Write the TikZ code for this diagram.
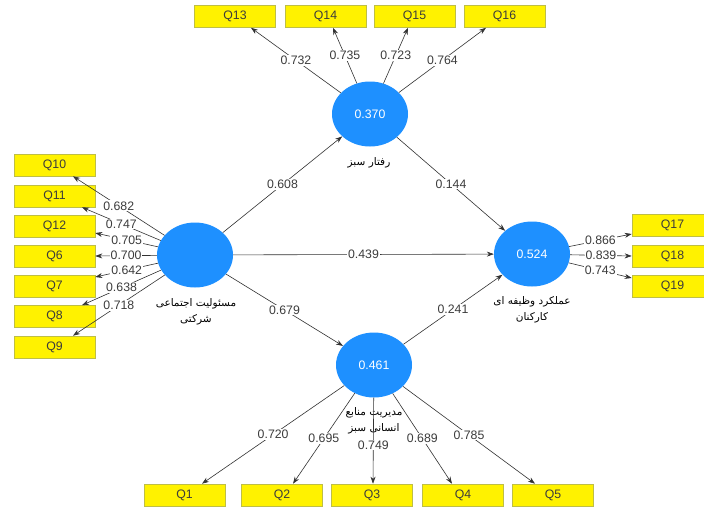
\documentclass[tikz,border=0pt]{standalone}
\usepackage{fontspec}
\setmainfont{Liberation Sans}
\newfontfamily\arabicfont[Script=Arabic]{DejaVu Sans}
\TeXXeTstate=1
\usetikzlibrary{arrows.meta,shapes.geometric}
\definecolor{lv}{RGB}{30,144,255}
\definecolor{boxedge}{RGB}{190,190,70}
\definecolor{txt}{RGB}{60,60,60}
\definecolor{ln}{RGB}{50,50,50}
\begin{document}
\begin{tikzpicture}[x=1pt,y=-1pt,
  ind/.style={draw=boxedge,fill=yellow,line width=0.6pt,minimum width=81pt,minimum height=22pt,inner sep=0pt,font=\fontsize{12.3}{13}\selectfont,text=txt},
  lat/.style={ellipse,fill=lv,minimum width=76pt,minimum height=65pt,inner sep=0pt,font=\fontsize{12.3}{13}\selectfont,text=white},
  conn/.style={draw=ln,line width=0.6pt,-{Stealth[length=7pt,width=5pt]}},
  wt/.style={fill=white,inner sep=1pt,font=\fontsize{12.3}{13}\selectfont,text=txt},
  ar/.style={align=center,font=\arabicfont\fontsize{10.5}{15.5}\selectfont,text=black}]
\clip (0,0) rectangle (704,506);
\fill[white] (0,0) rectangle (704,506);
% latent variables
\node[lat] (c1) at (195,255) {};
\node[lat] (c2) at (370,114) {0.370};
\node[lat] (c3) at (532,254) {0.524};
\node[lat] (c4) at (374,365) {0.461};
% latent labels
\node[ar] (l1) at (196,312) {\beginR مسئولیت اجتماعی\endR\\\beginR شرکتی\endR};
\node[ar] (l2) at (369,163) {\beginR رفتار سبز\endR};
\node[ar] (l3) at (532,310) {\beginR عملکرد وظیفه ای\endR\\\beginR کارکنان\endR};
\node[ar] (l4) at (374,421) {\beginR مدیریت منابع\endR\\\beginR انسانی سبز\endR};
% indicator boxes left
\node[ind] (q10) at (54.5,165) {Q10};
\node[ind] (q11) at (54.5,196) {Q11};
\node[ind] (q12) at (54.5,226) {Q12};
\node[ind] (q6) at (54.5,256) {Q6};
\node[ind] (q7) at (54.5,286) {Q7};
\node[ind] (q8) at (54.5,316.5) {Q8};
\node[ind] (q9) at (54.5,347) {Q9};
% top
\node[ind] (q13) at (235,16.5) {Q13};
\node[ind] (q14) at (325.5,16.5) {Q14};
\node[ind] (q15) at (414.5,16.5) {Q15};
\node[ind] (q16) at (504.5,16.5) {Q16};
% right
\node[ind] (q17) at (672.5,225) {Q17};
\node[ind] (q18) at (672.5,256) {Q18};
\node[ind] (q19) at (672.5,286) {Q19};
% bottom
\node[ind] (q1) at (184.5,495) {Q1};
\node[ind] (q2) at (282,495) {Q2};
\node[ind] (q3) at (372,495) {Q3};
\node[ind] (q4) at (463,495) {Q4};
\node[ind] (q5) at (553,495) {Q5};
% structural paths
\draw[conn] (c1) -- node[wt] {0.608} (c2);
\draw[conn] (c2) -- node[wt] {0.144} (c3);
\draw[conn] (c1) -- node[wt] {0.439} (c3);
\draw[conn] (c1) -- node[wt] {0.679} (c4);
\draw[conn] (c4) -- node[wt] {0.241} (c3);
% left loadings
\draw[conn] (c1) -- node[wt] {0.682} ([xshift=18.5pt]q10.south);
\draw[conn] (c1) -- node[wt] {0.747} ([xshift=27.5pt]q11.south);
\draw[conn] (c1) -- node[wt] {0.705} ([yshift=-7pt]q12.east);
\draw[conn] (c1) -- node[wt] {0.700} (q6.east);
\draw[conn] (c1) -- node[wt] {0.642} ([yshift=9pt]q7.east);
\draw[conn] (c1) -- node[wt] {0.638} ([xshift=27.5pt]q8.north);
\draw[conn] (c1) -- node[wt] {0.718} ([xshift=18.5pt]q9.north);
% top loadings
\draw[conn] (c2) -- node[wt] {0.732} ([xshift=16pt]q13.south);
\draw[conn] (c2) -- node[wt] {0.735} ([xshift=7.5pt]q14.south);
\draw[conn] (c2) -- node[wt] {0.723} ([xshift=-6.5pt]q15.south);
\draw[conn] (c2) -- node[wt] {0.764} ([xshift=-18.5pt]q16.south);
% right loadings
\draw[conn] (c3) -- node[wt] {0.866} ([yshift=-9pt]q17.west);
\draw[conn] (c3) -- node[wt] {0.839} (q18.west);
\draw[conn] (c3) -- node[wt] {0.743} ([yshift=8pt]q19.west);
% bottom loadings
\draw[conn] (c4) -- node[wt] {0.720} ([xshift=17.5pt]q1.north);
\draw[conn] (c4) -- node[wt] {0.695} ([xshift=11pt]q2.north);
\draw[conn] (c4) -- node[wt,pos=0.55] {0.749} ([xshift=1pt]q3.north);
\draw[conn] (c4) -- node[wt] {0.689} ([xshift=-11pt]q4.north);
\draw[conn] (c4) -- node[wt] {0.785} ([xshift=-18pt]q5.north);
\end{tikzpicture}
\end{document}
